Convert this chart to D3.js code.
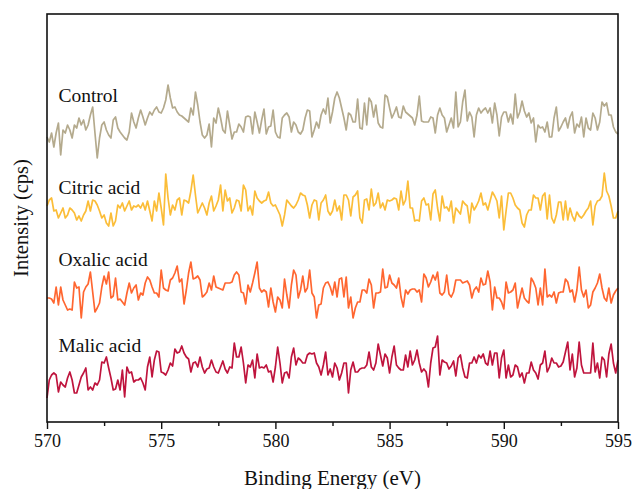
<!DOCTYPE html>
<html>
<head>
<meta charset="utf-8">
<script src="https://cdn.jsdelivr.net/npm/d3@7"></script>
<style>
  html, body { margin: 0; padding: 0; background: #fff; }
  svg { display: block; }
  text { font-family: "Liberation Serif", "Times New Roman", serif; fill: #111; }
</style>
</head>
<body>
<svg id="chart" width="641" height="489"></svg>
<script>
// Binding energy grid (eV): 570 → 595 in 0.1 eV steps
const energyStart = 570, energyEnd = 595, energyStep = 0.1;
const xTicks = [570, 575, 580, 585, 590, 595];
const xMinorTicks = [572.5, 577.5, 582.5, 587.5, 592.5];

// Offset spectra (a.u.), one value per energy step
const control = [
  285,280,289,275,289,299,267,292,289,297,292,284,297,294,304,297,302,292,297,307,
  315,289,264,284,297,300,292,287,284,302,305,294,290,287,284,282,290,309,300,294,
  304,312,305,297,304,310,307,312,315,310,309,314,322,337,324,314,315,310,307,306,
  304,302,
  300,314,307,330,317,300,287,284,287,298,275,304,299,314,304,292,289,311,297,283,
  290,290,298,295,290,305,306,305,288,310,300,289,302,313,288,295,296,312,290,285,
  284,304,307,309,305,290,300,297,290,288,292,304,312,311,285,292,300,294,307,313,
  308,324,299,310,324,
  330,324,314,304,292,309,307,300,300,323,294,293,319,297,324,320,305,317,299,295,
  294,327,325,314,304,309,315,305,304,316,310,308,306,304,297,307,326,301,300,300,
  300,305,304,289,307,314,307,304,290,297,304,294,330,295,300,320,332,301,310,305,
  285,307,314,
  309,312,314,309,314,299,319,307,286,305,310,310,300,308,298,328,304,310,321,311,
  305,309,299,304,280,297,294,295,290,300,285,285,304,315,291,295,300,304,294,305,
  310,289,298,295,305,285,304,294,292,309,304,292,300,320,316,319,307,307,295,290,
  288
];
const citricAcid = [
  216,222,224,211,212,204,209,214,204,207,214,212,209,202,206,201,207,211,221,211,
  222,221,217,211,204,207,199,196,209,196,201,217,214,219,211,216,221,212,216,215,
  217,214,219,212,221,211,201,221,211,229,214,197,248,224,207,217,212,222,224,207,
  222,221,219,231,247,227,209,214,219,214,207,219,226,211,216,222,237,211,232,221,
  224,209,214,222,221,211,237,232,211,216,207,231,224,221,219,221,222,230,219,216,
  217,212,207,196,207,222,219,216,214,217,222,229,227,226,217,204,217,222,221,202,
  219,222,227,211,207,211,
  222,211,216,202,227,227,222,206,225,227,231,204,199,222,223,212,233,216,219,229,
  214,219,212,222,221,222,224,223,212,231,217,222,241,214,214,201,202,201,221,224,
  217,218,202,228,232,214,201,226,214,215,211,221,199,214,211,208,221,218,216,199,
  219,212,216,221,229,217,219,212,221,230,226,221,204,226,192,211,229,229,224,217,
  214,212,199,195,207,212,212,227,224,224,212,226,229,203,227,204,199,207,220,220,
  202,221,202,214,206,201,210,206,204,207,211,214,221,197,216,221,222,226,249,231,
  226,216,204,204,211
];
const oxalicAcid = [
  124,124,123,119,135,117,135,122,117,112,113,112,140,134,135,104,130,135,138,150,
  130,110,114,119,135,146,138,150,124,126,144,122,123,120,117,129,139,129,134,137,
  122,129,127,139,145,142,135,129,129,125,152,134,132,131,142,144,149,156,140,143,
  118,132,149,160,143,144,146,142,125,127,130,139,132,146,135,134,133,132,139,139,
  139,140,147,150,147,130,129,118,137,130,139,149,160,134,130,132,130,115,134,120,
  110,125,122,114,143,127,114,137,152,147,124,132,146,130,134,152,129,125,104,117,
  118,134,139,140,135,127,
  140,125,143,144,125,145,114,125,104,114,120,120,132,132,129,143,137,114,129,129,
  130,153,134,135,147,139,137,134,144,125,115,132,128,132,133,133,130,132,120,148,
  144,135,140,147,142,150,129,127,130,147,128,125,130,142,142,142,139,140,141,137,
  124,132,135,130,144,137,138,151,140,112,135,124,124,120,113,140,129,130,132,139,
  114,124,134,124,121,119,144,140,134,117,134,117,153,125,127,125,130,119,129,130,
  130,143,140,130,132,120,132,155,132,125,132,114,117,130,134,139,148,134,124,121,
  134,119,127,131,134
];
const malicAcid = [
  24,42,47,49,47,30,40,37,35,44,50,42,29,29,37,45,49,54,32,35,
  32,39,37,42,60,59,65,54,44,32,33,42,32,52,25,55,49,50,40,42,
  42,44,39,32,55,65,45,62,71,70,50,49,47,52,59,56,73,69,70,76,
  69,65,63,50,59,60,55,65,55,49,53,54,62,55,50,49,55,61,53,49,
  55,54,79,65,65,75,59,39,57,55,62,44,68,54,55,54,57,50,51,40,
  55,75,59,39,49,50,44,65,74,57,64,62,59,59,67,69,68,69,59,55,
  47,57,70,47,53,45,
  59,54,42,49,59,59,29,52,60,50,50,53,54,54,57,70,55,52,59,78,
  67,56,68,64,49,65,76,57,54,52,52,67,55,71,57,62,72,59,50,53,
  50,35,59,74,75,86,47,62,60,59,53,56,61,46,64,67,54,45,44,59,
  59,65,59,67,64,68,59,57,71,57,69,69,44,64,72,44,57,45,47,57,
  55,45,49,39,49,49,60,52,49,43,57,59,71,50,55,64,59,59,55,56,
  60,70,80,52,68,45,54,80,57,49,49,49,49,79,50,59,44,65,62,45,
  68,78,59,49,62
];

const seriesNames = ["Control", "Citric acid", "Oxalic acid", "Malic acid"];
const seriesValues = [control, citricAcid, oxalicAcid, malicAcid];
const seriesColors = ["#b4aa8d", "#fbbd38", "#ff6630", "#bf143d"];
// label anchor: energy at left edge of the text, intensity at its baseline
const labelEnergy = [570.5, 570.5, 570.5, 570.5];
const labelIntensity = [320, 228, 156, 70];

const yDomain = [0, 408];

const svg = d3.select("#chart");
const margin = { left: 47, right: 23, top: 14, bottom: 67 };
const W = +svg.attr("width"), H = +svg.attr("height");
const innerW = W - margin.left - margin.right;
const innerH = H - margin.top - margin.bottom;

const x = d3.scaleLinear().domain([energyStart, energyEnd]).range([margin.left, margin.left + innerW]);
const y = d3.scaleLinear().domain(yDomain).range([margin.top + innerH, margin.top]);

const energies = d3.range(0, Math.round((energyEnd - energyStart) / energyStep) + 1)
  .map(i => energyStart + i * energyStep);

const line = d3.line()
  .x((d, i) => x(energies[i]))
  .y(d => y(d));

// spectra
const g = svg.append("g");
seriesValues.forEach((vals, k) => {
  g.append("path")
    .datum(vals)
    .attr("fill", "none")
    .attr("stroke", seriesColors[k])
    .attr("stroke-width", 1.7)
    .attr("stroke-linejoin", "round")
    .attr("d", line);
});

// frame
svg.append("rect")
  .attr("x", margin.left).attr("y", margin.top)
  .attr("width", innerW).attr("height", innerH)
  .attr("fill", "none").attr("stroke", "#111").attr("stroke-width", 1.6);

// bottom axis: major + minor ticks
const xAxis = d3.axisBottom(x).tickValues(xTicks).tickFormat(d3.format("d")).tickSize(7).tickPadding(5);
const axG = svg.append("g").attr("transform", `translate(0,${margin.top + innerH})`).call(xAxis);
axG.select(".domain").remove();
axG.selectAll(".tick line").attr("stroke", "#111").attr("stroke-width", 1.4);
axG.selectAll(".tick text")
  .attr("font-family", "'Liberation Serif', 'Times New Roman', serif")
  .attr("font-size", 18).attr("fill", "#111");

const minorAxis = d3.axisBottom(x).tickValues(xMinorTicks).tickFormat("").tickSize(4);
const minG = svg.append("g").attr("transform", `translate(0,${margin.top + innerH})`).call(minorAxis);
minG.select(".domain").remove();
minG.selectAll(".tick line").attr("stroke", "#111").attr("stroke-width", 1.4);

// series labels
seriesNames.forEach((name, k) => {
  svg.append("text")
    .attr("x", x(labelEnergy[k]))
    .attr("y", y(labelIntensity[k]))
    .attr("font-size", 19.5)
    .text(name);
});

// axis titles
svg.append("text")
  .attr("x", margin.left + innerW / 2)
  .attr("y", 485)
  .attr("text-anchor", "middle")
  .attr("font-size", 21)
  .text("Binding Energy (eV)");

svg.append("text")
  .attr("transform", `translate(28,${margin.top + innerH / 2}) rotate(-90)`)
  .attr("text-anchor", "middle")
  .attr("font-size", 20.5)
  .text("Intensity (cps)");
</script>
</body>
</html>
